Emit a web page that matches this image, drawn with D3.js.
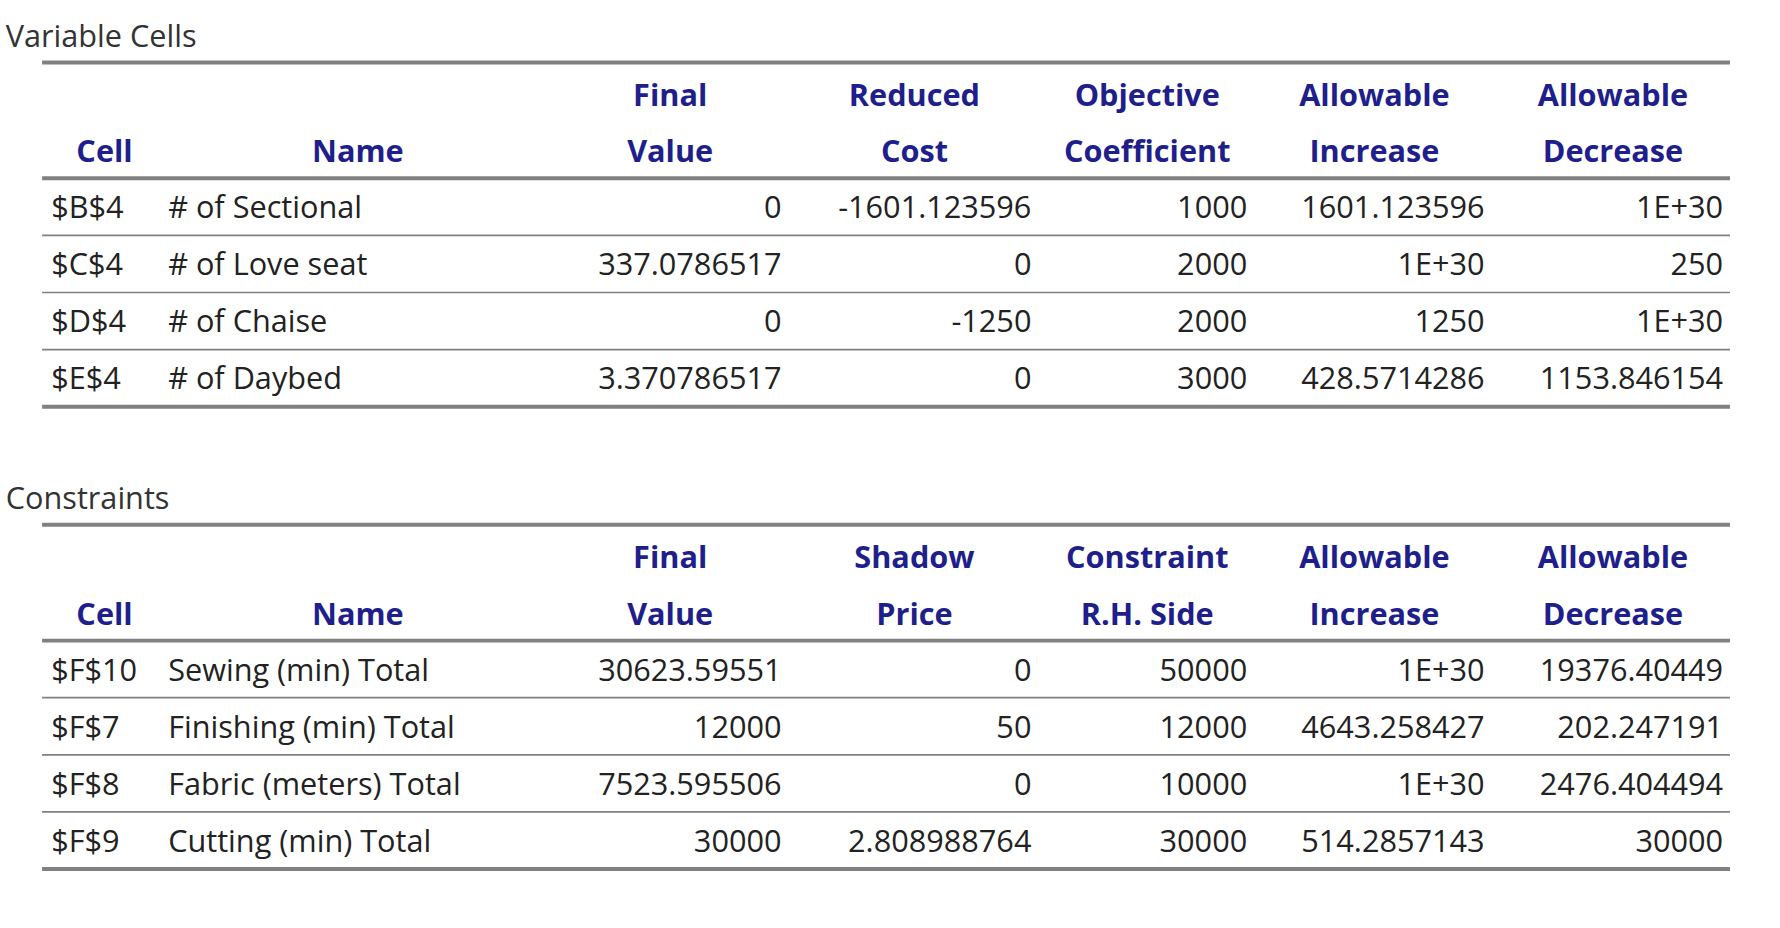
<!DOCTYPE html>
<html><head><meta charset="utf-8">
<script src="https://cdn.jsdelivr.net/npm/d3@7"></script>
<style>body{margin:0;background:#fff}</style></head>
<body><svg id="c" width="1780" height="928" viewBox="0 0 1567 817"></svg>
<script>
const varHeaders=[["","Cell"],["","Name"],["Final","Value"],["Reduced","Cost"],["Objective","Coefficient"],["Allowable","Increase"],["Allowable","Decrease"]];
const varCells=["$B$4","$C$4","$D$4","$E$4"];
const varNames=["# of Sectional","# of Love seat","# of Chaise","# of Daybed"];
const varFinal=["0","337.0786517","0","3.370786517"];
const varReduced=["-1601.123596","0","-1250","0"];
const varObj=["1000","2000","2000","3000"];
const varInc=["1601.123596","1E+30","1250","428.5714286"];
const varDec=["1E+30","250","1E+30","1153.846154"];
const conHeaders=[["","Cell"],["","Name"],["Final","Value"],["Shadow","Price"],["Constraint","R.H. Side"],["Allowable","Increase"],["Allowable","Decrease"]];
const conCells=["$F$10","$F$7","$F$8","$F$9"];
const conNames=["Sewing (min) Total","Finishing (min) Total","Fabric (meters) Total","Cutting (min) Total"];
const conFinal=["30623.59551","12000","7523.595506","30000"];
const conShadow=["0","50","0","2.808988764"];
const conRHS=["50000","12000","10000","30000"];
const conInc=["1E+30","4643.258427","1E+30","514.2857143"];
const conDec=["19376.40449","202.247191","2476.404494","30000"];

const svg=d3.select("#c");
const F="'Open Sans', sans-serif";
const colX=[45,148,688,908,1098,1307,1517];
const hdrX=[92,315,590,805,1010,1210,1420];
const x0=37,x1=1523;
function table(title,top,headers,cols){
  svg.append("text").attr("x",5).attr("y",top-14).attr("font-family",F).attr("font-size",27).attr("fill","#333").text(title);
  const rule=(y,w)=>svg.append("line").attr("x1",x0).attr("x2",x1).attr("y1",y).attr("y2",y).attr("stroke","#808080").attr("stroke-width",w);
  rule(top,3.5);
  headers.forEach((h,i)=>{
    h.forEach((t,j)=>{ if(t) svg.append("text").attr("x",hdrX[i]).attr("y",top+38+j*50).attr("text-anchor","middle")
      .attr("font-family",F).attr("font-size",27).attr("font-weight","bold").attr("fill","#1f1f8c").text(t);});
  });
  rule(top+102,3.5);
  const n=cols[0].length;
  const y=d3.scaleBand().domain(d3.range(n)).range([top+102,top+303]);
  d3.range(n).forEach(r=>{
    const cy=y(r)+y.bandwidth()/2+10;
    cols.forEach((c,i)=>{
      svg.append("text").attr("x",colX[i]).attr("y",cy).attr("text-anchor",i<2?"start":"end")
        .attr("font-family",F).attr("font-size",27).attr("fill","#222").text(c[r]);
    });
    if(r<n-1) rule(y(r)+y.bandwidth(),1.5);
  });
  rule(top+303,3.5);
}
table("Variable Cells",55,varHeaders,[varCells,varNames,varFinal,varReduced,varObj,varInc,varDec]);
table("Constraints",462,conHeaders,[conCells,conNames,conFinal,conShadow,conRHS,conInc,conDec]);
</script></body></html>
